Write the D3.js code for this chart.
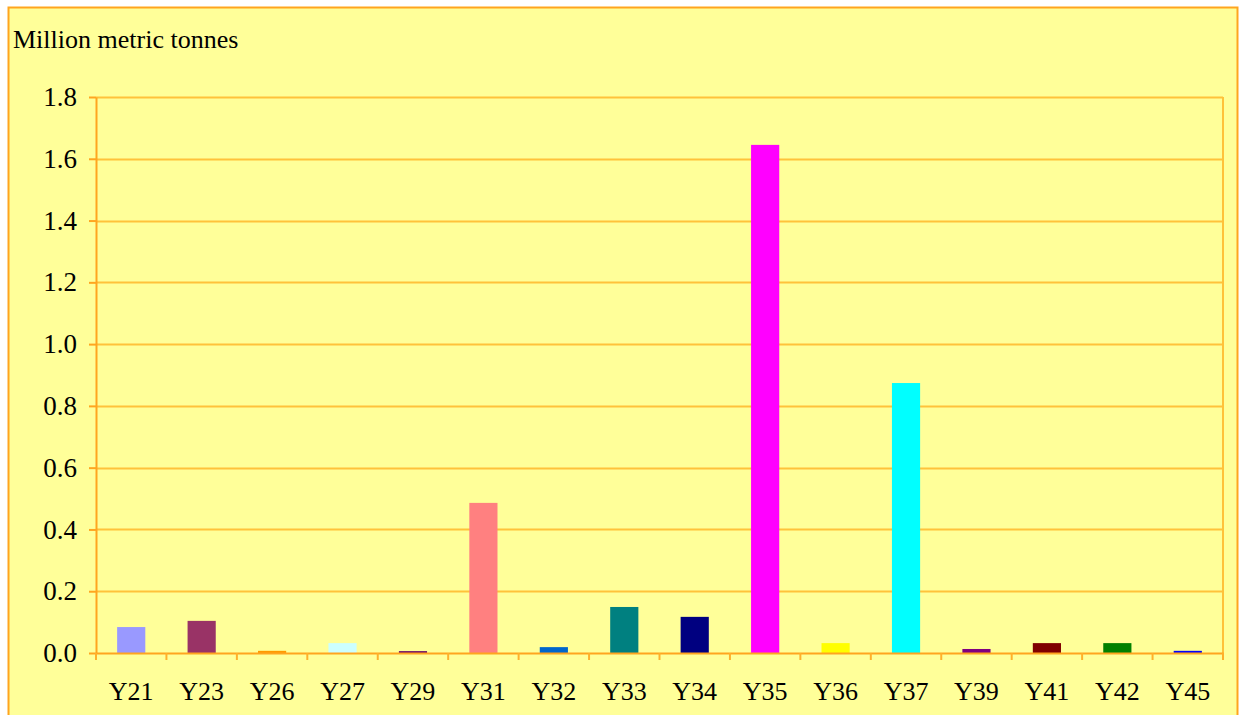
<!DOCTYPE html>
<html>
<head>
<meta charset="utf-8">
<title>Million metric tonnes</title>
<script src="https://d3js.org/d3.v7.min.js"></script>
<style>
  body { margin: 0; background: #ffffff; }
  svg text { font-family: "Liberation Serif", "Times New Roman", serif !important; fill: #000; }
</style>
</head>
<body>
<script>
// data
var categories = ["Y21", "Y23", "Y26", "Y27", "Y29", "Y31", "Y32", "Y33", "Y34", "Y35", "Y36", "Y37", "Y39", "Y41", "Y42", "Y45"];
var values = [0.084, 0.104, 0.007, 0.032, 0.006, 0.486, 0.019, 0.149, 0.117, 1.645, 0.032, 0.874, 0.013, 0.032, 0.032, 0.007];
var barColors = ["#9999ff", "#993366", "#ff9900", "#ccffff", "#660066", "#ff8080", "#0066cc", "#008080", "#000080", "#ff00ff", "#ffff00", "#00ffff", "#800080", "#800000", "#008000", "#0000ff"];
var yTicks = [0, 0.2, 0.4, 0.6, 0.8, 1.0, 1.2, 1.4, 1.6, 1.8];

var width = 1239, height = 715;
var plot = {left: 96, right: 1223, top: 97, bottom: 653};

var svg = d3.select("body").append("svg")
  .attr("width", width)
  .attr("height", height);

// chart area
svg.append("rect")
  .attr("x", 8.5).attr("y", 7.5)
  .attr("width", 1229).attr("height", 720)
  .attr("fill", "#ffff99")
  .attr("stroke", "#ffa51f")
  .attr("stroke-width", 2);

var x = d3.scaleBand()
  .domain(categories)
  .range([plot.left, plot.right]);

var y = d3.scaleLinear()
  .domain([0, 1.8])
  .range([plot.bottom, plot.top]);

// gridlines
svg.append("g")
  .selectAll("line")
  .data(yTicks.slice(1))
  .enter()
  .append("line")
  .attr("x1", plot.left).attr("x2", plot.right)
  .attr("y1", function(d){ return Math.round(y(d)) + 0.5; })
  .attr("y2", function(d){ return Math.round(y(d)) + 0.5; })
  .attr("stroke", "#ffc23a")
  .attr("stroke-width", 2);

// right edge of plot
svg.append("line")
  .attr("x1", plot.right).attr("x2", plot.right)
  .attr("y1", plot.top).attr("y2", plot.bottom)
  .attr("stroke", "#ffc23a")
  .attr("stroke-width", 2);

// bars
var barW = x.bandwidth() * 0.4;
svg.append("g")
  .selectAll("rect")
  .data(values)
  .enter()
  .append("rect")
  .attr("x", function(d, i){ return x(categories[i]) + (x.bandwidth() - barW) / 2; })
  .attr("y", function(d){ return y(d); })
  .attr("width", barW)
  .attr("height", function(d){ return y(0) - y(d); })
  .attr("fill", function(d, i){ return barColors[i]; });

// y axis
var yAxis = d3.axisLeft(y)
  .tickValues(yTicks)
  .tickFormat(d3.format(".1f"))
  .tickSizeInner(7)
  .tickSizeOuter(0)
  .tickPadding(12);
var gy = svg.append("g")
  .attr("transform", "translate(" + plot.left + ",0)")
  .call(yAxis);
gy.attr("font-family", null);
gy.selectAll("text").style("font-size", "27px");

// x axis
var xAxis = d3.axisBottom(x)
  .tickSizeInner(0)
  .tickSizeOuter(0)
  .tickPadding(29);
var gx = svg.append("g")
  .attr("transform", "translate(0," + plot.bottom + ")")
  .call(xAxis);
gx.attr("font-family", null);
gx.selectAll("text").style("font-size", "26px");

// category separators on x axis
gx.selectAll(".sep")
  .data(categories.concat(["end"]))
  .enter()
  .append("line")
  .attr("class", "sep")
  .attr("x1", function(d, i){ return plot.left + i * x.step(); })
  .attr("x2", function(d, i){ return plot.left + i * x.step(); })
  .attr("y1", 0).attr("y2", 7)
  .attr("stroke", "#ffb02a")
  .attr("stroke-width", 2);

svg.selectAll(".domain, .tick line")
  .attr("stroke", "#ffa51f")
  .attr("stroke-width", 2);

// axis title
svg.append("text")
  .attr("x", 13).attr("y", 48)
  .style("font-size", "26px")
  .text("Million metric tonnes");
</script>
</body>
</html>
